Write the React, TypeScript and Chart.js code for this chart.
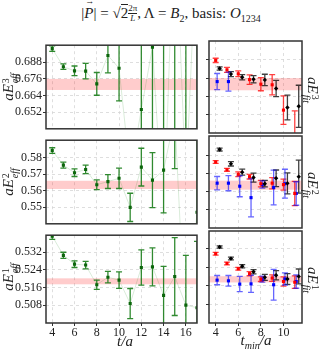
import React, { useEffect, useRef } from "react";
import { Chart, registerables } from "chart.js";
Chart.register(...registerables);

// ---------- data ----------
const tEff = [4, 5, 6, 7, 8, 9, 10, 11, 12, 13, 14, 15, 16, 17];
const eff3 = [0.6978, 0.6848, 0.6818, 0.6816, 0.6724, 0.6929, 0.6837, 0.608, 0.6539, 0.6989, 0.57, 0.8, 0.6, 0.78];
const eff3Err = [0.002, 0.002, 0.0035, 0.0056, 0.0082, 0.0126, 0.0236, 0.015, 0.07, 0.08, 0.16, 0.2, 0.2, 0.25];
const eff2 = [0.5844, 0.5755, 0.5709, 0.5729, 0.5636, 0.5655, 0.5675, 0.5498, 0.5743, 0.5664, 0.5725, 0.605, 0.47, 0.5468];
const eff2Err = [0.0017, 0.0018, 0.0023, 0.0026, 0.003, 0.0042, 0.0062, 0.0086, 0.0115, 0.0167, 0.0261, 0.0316, 0.05, 0.06];
const eff1 = [0.5393, 0.5306, 0.5266, 0.5262, 0.5173, 0.5207, 0.5194, 0.5088, 0.5251, 0.5254, 0.5125, 0.521, 0.5081, 0.5069];
const eff1Err = [0.0015, 0.0014, 0.0015, 0.0017, 0.0021, 0.0026, 0.0037, 0.0068, 0.008, 0.0086, 0.0131, 0.0176, 0.0225, 0.03];

const tMin = [4, 5, 6, 7, 8, 9, 10, 11];
const fitRed3 = [0.6876, 0.6814, 0.6788, 0.675, 0.672, 0.6716, 0.655, 0.638];
const fitRed3Err = [0.0014, 0.0016, 0.0019, 0.0031, 0.0043, 0.0066, 0.0093, 0.0165];
const fitBlack3 = [0.6823, 0.6786, 0.6765, 0.6752, 0.6748, 0.6692, 0.6567, 0.6575];
const fitBlack3Err = [0.0011, 0.0016, 0.0017, 0.0024, 0.0037, 0.0053, 0.0081, 0.0138];
const fitBlue3 = [0.6737, 0.6737, null, null, null, null, null, null];
const fitBlue3Err = [0.0053, 0.0062, null, null, null, null, null, null];

const fitRed2 = [0.5763, 0.572, 0.5695, 0.5682, 0.5643, 0.5646, 0.5638, 0.5589];
const fitRed2Err = [0.0008, 0.0008, 0.0013, 0.0013, 0.0018, 0.0031, 0.003, 0.0067];
const fitBlack2 = [0.5832, 0.5753, 0.5707, 0.5677, 0.5643, 0.5673, 0.5645, 0.5682];
const fitBlack2Err = [0.0008, 0.0012, 0.0017, 0.0025, 0.0018, 0.0046, 0.0058, 0.0091];
const fitBlue2 = [0.5646, 0.5646, 0.5629, 0.5566, 0.5639, 0.5622, 0.5643, 0.5589];
const fitBlue2Err = [0.0037, 0.0042, 0.0058, 0.0106, 0.002, 0.0096, 0.008, 0.0065];

const fitRed1 = [0.5299, 0.5257, 0.5234, 0.5213, 0.5189, 0.5194, 0.5179, 0.5176];
const fitRed1Err = [0.0006, 0.0006, 0.0006, 0.0009, 0.001, 0.0014, 0.002, 0.0027];
const fitBlack1 = [0.5328, 0.5278, 0.5245, 0.5221, 0.5197, 0.5206, 0.519, 0.5201];
const fitBlack1Err = [0.0005, 0.0006, 0.0007, 0.0009, 0.0013, 0.002, 0.0023, 0.0032];
const fitBlue1 = [0.5185, 0.5182, 0.5168, 0.5169, 0.5189, 0.5165, 0.519, 0.5179];
const fitBlue1Err = [0.002, 0.0023, 0.0033, 0.0037, 0.0013, 0.0066, 0.0026, 0.0029];

const bandLow = [0.668, 0.561, 0.5175];
const bandHigh = [0.676, 0.566, 0.5202];

const yTicks3 = [0.652, 0.664, 0.676, 0.688];
const yTickLabels3 = ["0.652", "0.664", "0.676", "0.688"];
const yTicks2 = [0.55, 0.56, 0.57, 0.58];
const yTickLabels2 = ["0.55", "0.56", "0.57", "0.58"];
const yTicks1 = [0.508, 0.516, 0.524, 0.532];
const yTickLabels1 = ["0.508", "0.516", "0.524", "0.532"];
const yRange3 = [0.64, 0.7003];
const yRange2 = [0.5398, 0.5907];
const yRange1 = [0.5, 0.5397];

const xTicksEff = [4, 6, 8, 10, 12, 14, 16];
const xTicksFit = [4, 6, 8, 10];
const xRangeEff = [3.44, 17.0];
const xRangeFit = [3.41, 11.64];
const blueShift = 0.13;
const blackShift = 0.35;

// ---------- styling / layout ----------
const FONT = "'Liberation Serif', 'DejaVu Serif', serif";
const ROWS = [
  { top: 40, bottom: 134 },
  { top: 135, bottom: 229 },
  { top: 230, bottom: 323 },
];
const COLS = [
  { left: 46, right: 198, yW: 46 },
  { left: 209, right: 303, yW: 6 },
];

const errorBarPlugin = {
  id: "errorBars",
  beforeDatasetsDraw(chart: any, _args: any, opts: any) {
    const { ctx, chartArea: a } = chart;
    const ys = chart.scales.y;
    const xs = chart.scales.x;
    if (opts && opts.low != null) {
      const y1 = ys.getPixelForValue(opts.high);
      const y2 = ys.getPixelForValue(opts.low);
      ctx.save();
      ctx.fillStyle = "rgba(255,0,0,0.2)";
      ctx.fillRect(a.left, y1, a.right - a.left, y2 - y1);
      ctx.restore();
    }
    ctx.save();
    ctx.beginPath();
    ctx.rect(a.left, a.top, a.right - a.left, a.bottom - a.top);
    ctx.clip();
    chart.data.datasets.forEach((ds: any) => {
      if (!ds.errors) return;
      ctx.strokeStyle = ds.errColor;
      ctx.lineWidth = ds.errWidth || 1.2;
      ds.data.forEach((p: any, i: number) => {
        const e = ds.errors[i];
        if (p.y == null || e == null) return;
        const px = xs.getPixelForValue(p.x);
        const top = ys.getPixelForValue(p.y + e);
        const bot = ys.getPixelForValue(p.y - e);
        ctx.beginPath();
        ctx.moveTo(px, top);
        ctx.lineTo(px, bot);
        ctx.moveTo(px - 3, top);
        ctx.lineTo(px + 3, top);
        ctx.moveTo(px - 3, bot);
        ctx.lineTo(px + 3, bot);
        ctx.stroke();
      });
    });
    ctx.restore();
  },
  afterDraw(chart: any) {
    const { ctx, chartArea: a } = chart;
    ctx.save();
    ctx.strokeStyle = "#333";
    ctx.lineWidth = 1.5;
    ctx.strokeRect(a.left, a.top, a.right - a.left, a.bottom - a.top);
    ctx.restore();
  },
};

function pts(xs: number[], ys: (number | null)[], shift = 0) {
  return xs.map((x, i) => ({ x: x + shift, y: ys[i] }));
}

function effDataset(values: number[], errs: number[]) {
  return {
    data: pts(tEff, values),
    errors: errs,
    errColor: "rgba(25,125,25,0.9)",
    errWidth: 1.3,
    showLine: true,
    spanGaps: true,
    borderColor: "rgba(0,128,0,0.15)",
    borderWidth: 1,
    pointStyle: "rect",
    pointRadius: 2.2,
    pointBackgroundColor: "#0b650b",
    pointBorderWidth: 0,
  };
}

function fitDataset(values: (number | null)[], errs: (number | null)[], color: string, errColor: string, shift: number, style: string) {
  return {
    data: pts(tMin, values, shift),
    errors: errs,
    errColor,
    errWidth: 1.3,
    showLine: false,
    pointStyle: style,
    pointRadius: 2.2,
    pointBackgroundColor: color,
    pointBorderWidth: 0,
  };
}

type PanelProps = {
  row: number;
  col: number;
  datasets: any[];
  yRange: number[];
  yTicks: number[];
  yLabels: string[];
  band: number[];
};

function Panel({ row, col, datasets, yRange, yTicks, yLabels, band }: PanelProps) {
  const ref = useRef<HTMLCanvasElement>(null);
  const R = ROWS[row];
  const C = COLS[col];
  const isBottom = row === 2;
  const padT = 3;
  const padR = 3;
  const padB = isBottom ? 0 : 3;
  const xH = isBottom ? 22 : 0;
  const width = C.yW + (C.right - C.left) + padR;
  const height = padT + (R.bottom - R.top) + xH + padB;
  const cLeft = C.left - C.yW;
  const cTop = R.top - padT;
  const xTicks = col === 0 ? xTicksEff : xTicksFit;
  const xRange = col === 0 ? xRangeEff : xRangeFit;

  useEffect(() => {
    const chart = new Chart(ref.current as HTMLCanvasElement, {
      type: "line",
      data: { datasets: datasets as any },
      plugins: [errorBarPlugin as any],
      options: {
        animation: false,
        responsive: false,
        devicePixelRatio: 1,
        events: [],
        layout: { padding: { left: 0, top: padT, right: padR, bottom: padB } },
        plugins: {
          legend: { display: false },
          tooltip: { enabled: false },
          errorBars: { low: band[0], high: band[1] },
        } as any,
        scales: {
          x: {
            type: "linear",
            min: xRange[0],
            max: xRange[1],
            afterBuildTicks: (s: any) => {
              s.ticks = xTicks.map((v) => ({ value: v }));
            },
            afterFit: (s: any) => {
              s.height = xH;
            },
            ticks: {
              display: isBottom,
              color: "#222",
              padding: 0,
              maxRotation: 0,
              autoSkip: false,
              font: { family: FONT, size: 12 },
              callback: (v: any) => String(v),
            },
            grid: {
              color: "#d6d6d6",
              lineWidth: 0.8,
              drawTicks: isBottom,
              tickLength: 3,
              tickColor: "#333",
              tickWidth: 1,
            },
            border: { display: false, dash: [3, 3] },
          },
          y: {
            type: "linear",
            min: yRange[0],
            max: yRange[1],
            afterBuildTicks: (s: any) => {
              s.ticks = yTicks.map((v) => ({ value: v }));
            },
            afterFit: (s: any) => {
              s.width = C.yW;
            },
            ticks: {
              display: col === 0,
              color: "#222",
              padding: 1,
              font: { family: FONT, size: 12 },
              callback: (_v: any, i: number) => yLabels[i],
            },
            grid: {
              color: "#d6d6d6",
              lineWidth: 0.8,
              drawTicks: true,
              tickLength: 3,
              tickColor: "#333",
              tickWidth: 1,
            },
            border: { display: false, dash: [3, 3] },
          },
        } as any,
      },
    });
    return () => chart.destroy();
  }, []);

  return (
    <canvas
      ref={ref}
      width={width}
      height={height}
      style={{ position: "absolute", left: cLeft, top: cTop, width, height }}
    />
  );
}

const supsub = (sup: string, sub: string) => (
  <span
    style={{
      display: "inline-flex",
      flexDirection: "column",
      fontSize: 10,
      lineHeight: "9px",
      verticalAlign: "middle",
      marginLeft: 1,
    }}
  >
    <span style={{ fontStyle: "normal" }}>{sup}</span>
    <span>{sub}</span>
  </span>
);

function YLabel({ x, y, sup, sub, rot }: { x: number; y: number; sup: string; sub: string; rot: number }) {
  return (
    <div
      style={{
        position: "absolute",
        left: x,
        top: y,
        transform: `translate(-50%, -50%) rotate(${rot}deg)`,
        whiteSpace: "nowrap",
        fontFamily: FONT,
        fontStyle: "italic",
        fontSize: 15,
        color: "#222",
      }}
    >
      aE{supsub(sup, sub)}
    </div>
  );
}

export default function App() {
  const leftData = [
    [effDataset(eff3, eff3Err)],
    [effDataset(eff2, eff2Err)],
    [effDataset(eff1, eff1Err)],
  ];
  const redC = "#ff0000";
  const redE = "rgba(255,0,0,0.75)";
  const blkC = "#000000";
  const blkE = "rgba(0,0,0,0.75)";
  const bluC = "#0000ff";
  const bluE = "rgba(0,0,255,0.6)";
  const rightData = [
    [
      fitDataset(fitRed3, fitRed3Err, redC, redE, 0, "rect"),
      fitDataset(fitBlack3, fitBlack3Err, blkC, blkE, blackShift, "rectRot"),
      fitDataset(fitBlue3, fitBlue3Err, bluC, bluE, blueShift, "rect"),
    ],
    [
      fitDataset(fitRed2, fitRed2Err, redC, redE, 0, "rect"),
      fitDataset(fitBlack2, fitBlack2Err, blkC, blkE, blackShift, "rectRot"),
      fitDataset(fitBlue2, fitBlue2Err, bluC, bluE, blueShift, "rect"),
    ],
    [
      fitDataset(fitRed1, fitRed1Err, redC, redE, 0, "rect"),
      fitDataset(fitBlack1, fitBlack1Err, blkC, blkE, blackShift, "rectRot"),
      fitDataset(fitBlue1, fitBlue1Err, bluC, bluE, blueShift, "rect"),
    ],
  ];
  const yR = [yRange3, yRange2, yRange1];
  const yT = [yTicks3, yTicks2, yTicks1];
  const yL = [yTickLabels3, yTickLabels2, yTickLabels1];
  const idx = ["3", "2", "1"];

  return (
    <div
      style={{
        position: "absolute",
        left: 0,
        top: 0,
        width: 320,
        height: 352,
        background: "#fff",
        overflow: "hidden",
      }}
    >
      <div
        style={{
          position: "absolute",
          left: 21,
          top: 4,
          width: 300,
          textAlign: "center",
          fontFamily: FONT,
          fontSize: 15,
          color: "#222",
          whiteSpace: "nowrap",
        }}
      >
        |
        <span style={{ position: "relative", display: "inline-block" }}>
          <i>P</i>
          <span
            style={{
              position: "absolute",
              left: 1,
              top: -8,
              fontSize: 9,
              lineHeight: "9px",
            }}
          >
            →
          </span>
        </span>
        | = √<span style={{ borderTop: "1px solid #222" }}>2</span>
        <span
          style={{
            display: "inline-flex",
            flexDirection: "column",
            fontSize: 9,
            lineHeight: "9px",
            verticalAlign: "top",
            textAlign: "center",
          }}
        >
          <span>2π</span>
          <span style={{ borderTop: "0.8px solid #222", fontStyle: "italic" }}>L</span>
        </span>
        , Λ = <i>B</i>
        <sub style={{ fontSize: 10 }}>2</sub>, basis: <i>O</i>
        <sub style={{ fontSize: 10 }}>1234</sub>
      </div>

      {[0, 1, 2].map((r) => (
        <React.Fragment key={r}>
          <Panel
            row={r}
            col={0}
            datasets={leftData[r]}
            yRange={yR[r]}
            yTicks={yT[r]}
            yLabels={yL[r]}
            band={[bandLow[r], bandHigh[r]]}
          />
          <Panel
            row={r}
            col={1}
            datasets={rightData[r]}
            yRange={yR[r]}
            yTicks={yT[r]}
            yLabels={yL[r]}
            band={[bandLow[r], bandHigh[r]]}
          />
          <YLabel x={9} y={(ROWS[r].top + ROWS[r].bottom) / 2} sup={idx[r]} sub="eff" rot={-90} />
          <YLabel x={312} y={(ROWS[r].top + ROWS[r].bottom) / 2 + 3} sup={idx[r]} sub="fit" rot={90} />
        </React.Fragment>
      ))}

      <div
        style={{
          position: "absolute",
          left: 125,
          top: 341,
          transform: "translate(-50%, -50%)",
          fontFamily: FONT,
          fontStyle: "italic",
          fontSize: 15,
          color: "#222",
          whiteSpace: "nowrap",
        }}
      >
        t/a
      </div>
      <div
        style={{
          position: "absolute",
          left: 256,
          top: 341,
          transform: "translate(-50%, -50%)",
          fontFamily: FONT,
          fontStyle: "italic",
          fontSize: 15,
          color: "#222",
          whiteSpace: "nowrap",
        }}
      >
        t<sub style={{ fontSize: 10 }}>min</sub>/a
      </div>
    </div>
  );
}
